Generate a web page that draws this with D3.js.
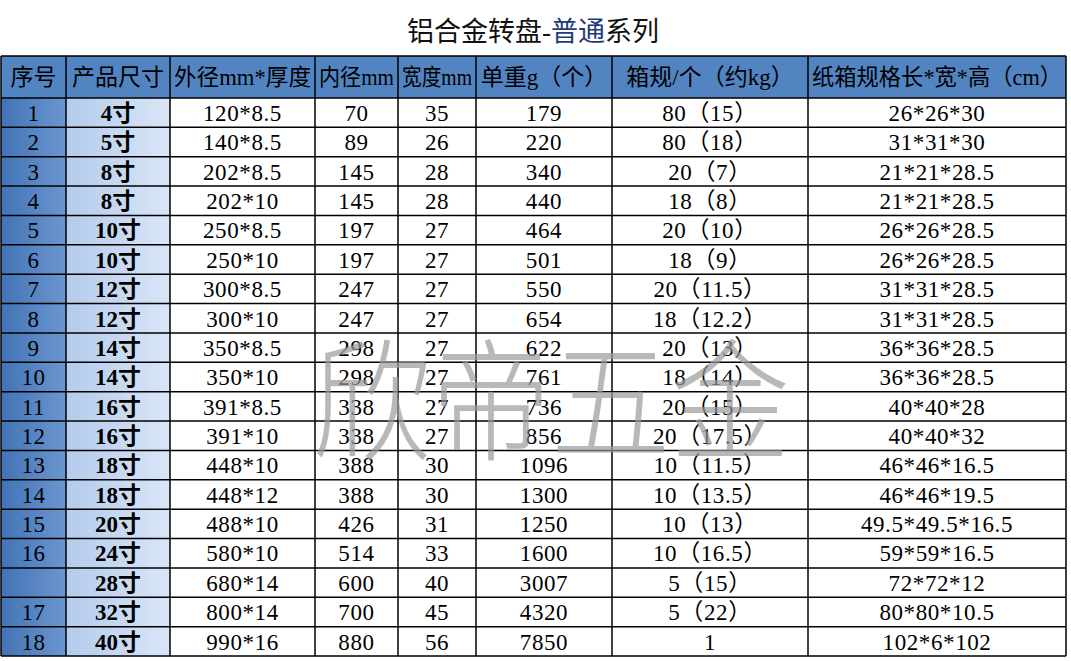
<!DOCTYPE html>
<html><head><meta charset="utf-8">
<script src="https://cdn.jsdelivr.net/npm/d3@7"></script>
<style>
html,body{margin:0;padding:0;background:#fff;}
svg{display:block;}
</style></head>
<body>
<svg id="chart" width="1071" height="661"></svg>
<script>
// ---- DATA ----
const titleParts = ["铝合金转盘-", "普通", "系列"];
const headers = ["序号", "产品尺寸", "外径mm*厚度", "内径mm", "宽度mm", "单重g（个）", "箱规/个（约kg）", "纸箱规格长*宽*高（cm）"];
const seqNo = ["1","2","3","4","5","6","7","8","9","10","11","12","13","14","15","16","","17","18"];
const sizes = ["4寸","5寸","8寸","8寸","10寸","10寸","12寸","12寸","14寸","14寸","16寸","16寸","18寸","18寸","20寸","24寸","28寸","32寸","40寸"];
const outerThick = ["120*8.5","140*8.5","202*8.5","202*10","250*8.5","250*10","300*8.5","300*10","350*8.5","350*10","391*8.5","391*10","448*10","448*12","488*10","580*10","680*14","800*14","990*16"];
const innerDia = [70,89,145,145,197,197,247,247,298,298,338,338,388,388,426,514,600,700,880];
const widthMm = [35,26,28,28,27,27,27,27,27,27,27,27,30,30,31,33,40,45,56];
const unitWeight = [179,220,340,440,464,501,550,654,622,761,736,856,1096,1300,1250,1600,3007,4320,7850];
const boxSpec = ["80（15）","80（18）","20（7）","18（8）","20（10）","18（9）","20（11.5）","18（12.2）","20（13）","18（14）","20（15）","20（17.5）","10（11.5）","10（13.5）","10（13）","10（16.5）","5（15）","5（22）","1"];
const cartonSize = ["26*26*30","31*31*30","21*21*28.5","21*21*28.5","26*26*28.5","26*26*28.5","31*31*28.5","31*31*28.5","36*36*28.5","36*36*28.5","40*40*28","40*40*32","46*46*16.5","46*46*19.5","49.5*49.5*16.5","59*59*16.5","72*72*12","80*80*10.5","102*6*102"];
const watermark = "欣帝五金";

// ---- LAYOUT ----
const svg = d3.select("#chart");
const FONT = "'Liberation Serif','Noto Sans CJK SC',serif";
const colEdges = [1, 66, 170, 315, 398, 476, 612, 808, 1066];
const headerTop = 56, headerBottom = 98, tableBottom = 656;
const columns = [seqNo, sizes, outerThick, innerDia, widthMm, unitWeight, boxSpec, cartonSize];
const nRows = sizes.length;

const y = d3.scaleBand().domain(d3.range(nRows)).range([headerBottom, tableBottom]).padding(0);
const x = i => colEdges[i];
const w = i => colEdges[i + 1] - colEdges[i];

const defs = svg.append("defs");
const g1 = defs.append("linearGradient").attr("id", "gSeq").attr("x1", "0").attr("x2", "1").attr("y1", "0").attr("y2", "0");
g1.append("stop").attr("offset", "0").attr("stop-color", "#4373b5");
g1.append("stop").attr("offset", "1").attr("stop-color", "#6b96cf");
const g2 = defs.append("linearGradient").attr("id", "gSize").attr("x1", "0").attr("x2", "1").attr("y1", "0").attr("y2", "0");
g2.append("stop").attr("offset", "0").attr("stop-color", "#b3cbec");
g2.append("stop").attr("offset", "1").attr("stop-color", "#d9e6f6");

// title
const title = svg.append("text").attr("x", 533).attr("y", 41).attr("text-anchor", "middle")
  .attr("font-family", FONT).attr("font-size", 27).attr("fill", "#111");
title.selectAll("tspan").data(titleParts).join("tspan")
  .attr("fill", (d, i) => i === 1 ? "#1f3a7a" : "#111")
  .text(d => d);

// header background
svg.append("rect").attr("x", colEdges[0]).attr("y", headerTop)
  .attr("width", colEdges[8] - colEdges[0]).attr("height", headerBottom - headerTop)
  .attr("fill", "#5384c2");

// column backgrounds
svg.append("rect").attr("x", x(0)).attr("y", headerBottom).attr("width", w(0)).attr("height", tableBottom - headerBottom).attr("fill", "url(#gSeq)");
svg.append("rect").attr("x", x(1)).attr("y", headerBottom).attr("width", w(1)).attr("height", tableBottom - headerBottom).attr("fill", "url(#gSize)");

// header text
svg.append("g").selectAll("text").data(headers).join("text")
  .attr("x", (d, i) => x(i) + w(i) / 2)
  .attr("y", (headerTop + headerBottom) / 2)
  .attr("dy", "0.36em")
  .attr("text-anchor", "middle")
  .attr("font-family", FONT).attr("font-size", 23).attr("fill", "#000")
  .text(d => d)
  .each(function (d, i) {
    const len = this.getComputedTextLength();
    if (len > w(i) - 8) {
      d3.select(this).attr("textLength", w(i) - 8).attr("lengthAdjust", "spacingAndGlyphs");
    }
  });

// cells
const body = svg.append("g");
columns.forEach((col, ci) => {
  body.append("g").selectAll("text").data(col).join("text")
    .attr("x", x(ci) + w(ci) / 2)
    .attr("y", (d, ri) => y(ri) + y.bandwidth() / 2)
    .attr("dy", "0.36em")
    .attr("text-anchor", "middle")
    .attr("font-family", FONT).attr("font-size", 23)
    .attr("letter-spacing", ci === 1 ? 0 : 0.6)
    .attr("font-weight", ci === 1 ? "bold" : "normal")
    .attr("fill", "#000")
    .text(d => d);
});

// grid lines
const grid = svg.append("g").attr("stroke", "#000").attr("stroke-width", 1.5);
const hLines = [headerTop].concat(d3.range(nRows).map(i => y(i))).concat([tableBottom]);
grid.selectAll("line.h").data(hLines).join("line").attr("class", "h")
  .attr("x1", colEdges[0]).attr("x2", colEdges[8]).attr("y1", d => d).attr("y2", d => d);
grid.selectAll("line.v").data(colEdges).join("line").attr("class", "v")
  .attr("x1", d => d).attr("x2", d => d).attr("y1", headerTop).attr("y2", tableBottom);

// watermark
svg.append("text").attr("x", 551).attr("y", 450)
  .attr("text-anchor", "middle")
  .attr("font-family", "'Noto Sans CJK SC',sans-serif").attr("font-size", 132)
  .attr("font-weight", 300)
  .attr("textLength", 478).attr("lengthAdjust", "spacingAndGlyphs")
  .attr("fill", "#9a9a9a").attr("fill-opacity", 0.7)
  .text(watermark);
</script>
</body></html>
